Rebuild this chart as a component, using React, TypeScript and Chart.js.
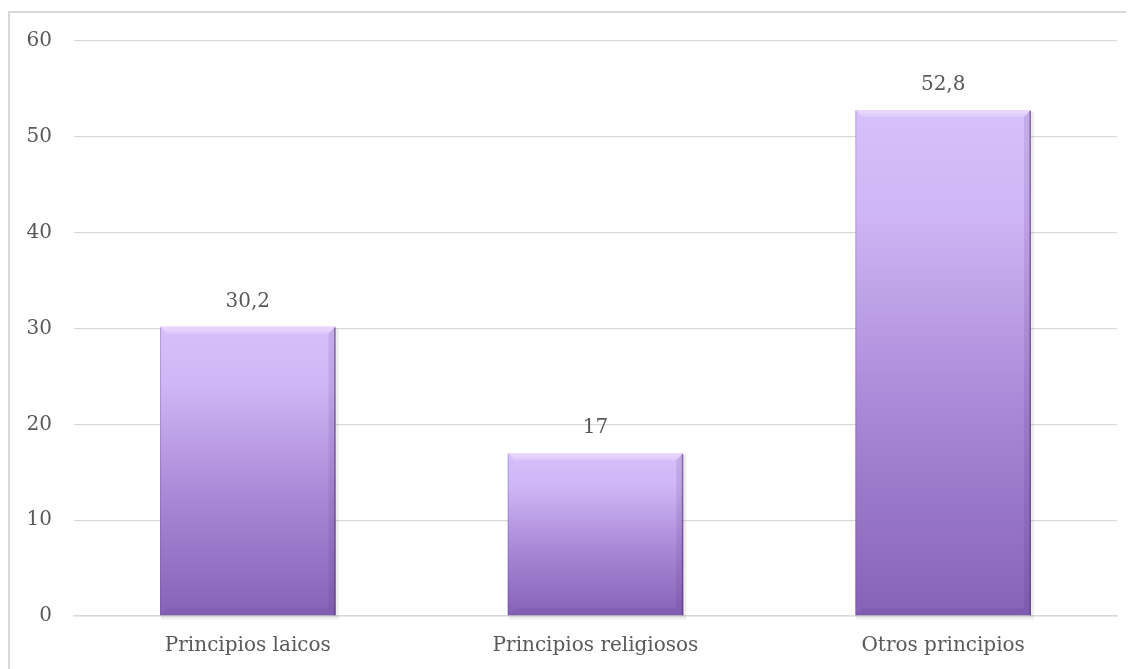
import React, { useEffect, useRef } from "react";
import { Chart, registerables } from "chart.js";

Chart.register(...registerables);

const categories = ["Principios laicos", "Principios religiosos", "Otros principios"];
const values = [30.2, 17, 52.8];
const yMin = 0;
const yMax = 60;
const yStep = 10;

const FONT = "'DejaVu Serif', serif";
const TEXT = "#595959";
const GRID = "#d9d9d9";

const fmt = (v: number) => String(v).replace(".", ",");

const bevelPlugin = {
  id: "bevel",
  beforeDatasetsDraw(chart: any) {
    const meta = chart.getDatasetMeta(0);
    const ctx = chart.ctx;
    ctx.save();
    meta.data.forEach((bar: any) => {
      const { x, y, base, width } = bar.getProps(["x", "y", "base", "width"], true);
      const x0 = x - width / 2;
      ctx.fillStyle = "rgba(0,0,0,0.07)";
      ctx.fillRect(x0 + 1, y + 2, width + 2, base - y + 2);
    });
    ctx.restore();
  },
  afterDatasetsDraw(chart: any) {
    const meta = chart.getDatasetMeta(0);
    const ctx = chart.ctx;
    ctx.save();
    meta.data.forEach((bar: any, i: number) => {
      const { x, y, base, width } = bar.getProps(["x", "y", "base", "width"], true);
      const x0 = x - width / 2;
      const x1 = x + width / 2;
      const top = y;
      const bot = base;
      const b = 7;
      // top bevel
      ctx.beginPath();
      ctx.moveTo(x0, top);
      ctx.lineTo(x1, top);
      ctx.lineTo(x1 - b, top + b);
      ctx.lineTo(x0 + b, top + b);
      ctx.closePath();
      const tg = ctx.createLinearGradient(0, top, 0, top + b);
      tg.addColorStop(0, "rgba(255,235,255,0.55)");
      tg.addColorStop(1, "rgba(255,255,255,0.15)");
      ctx.fillStyle = tg;
      ctx.fill();
      // right bevel
      ctx.beginPath();
      ctx.moveTo(x1, top);
      ctx.lineTo(x1, bot);
      ctx.lineTo(x1 - b, bot - b);
      ctx.lineTo(x1 - b, top + b);
      ctx.closePath();
      ctx.fillStyle = "rgba(70,40,110,0.12)";
      ctx.fill();
      // bottom bevel
      ctx.beginPath();
      ctx.moveTo(x0, bot);
      ctx.lineTo(x0 + b, bot - b);
      ctx.lineTo(x1 - b, bot - b);
      ctx.lineTo(x1, bot);
      ctx.closePath();
      ctx.fillStyle = "rgba(60,30,100,0.08)";
      ctx.fill();
      // edge lines
      ctx.fillStyle = "rgba(80,50,110,0.55)";
      ctx.fillRect(x1 - 1.5, top + 1, 1.5, bot - top - 1);
      ctx.fillStyle = "rgba(80,50,110,0.25)";
      ctx.fillRect(x0, top + 1, 1, bot - top - 1);
      // value label
      ctx.fillStyle = TEXT;
      ctx.font = `20px ${FONT}`;
      ctx.textAlign = "center";
      ctx.textBaseline = "middle";
      ctx.fillText(fmt(values[i]), x, top - 25);
    });
    ctx.restore();
  },
};

export default function App() {
  const ref = useRef<HTMLCanvasElement | null>(null);

  useEffect(() => {
    document.body.style.overflow = "hidden";
    if (!ref.current) return;
    const chart = new Chart(ref.current, {
      type: "bar",
      data: {
        labels: categories,
        datasets: [
          {
            data: values,
            barPercentage: 0.505,
            categoryPercentage: 1,
            backgroundColor: (c: any) => {
              const ch = c.chart;
              const ys = ch.scales?.y;
              if (!ys || !ch.chartArea || c.dataIndex === undefined) return "#a88bd8";
              const top = ys.getPixelForValue(values[c.dataIndex]);
              const bot = ys.getPixelForValue(0);
              const g = ch.ctx.createLinearGradient(0, top, 0, bot);
              g.addColorStop(0, "#d6c0fb");
              g.addColorStop(0.2, "#cfb6f5");
              g.addColorStop(0.6, "#a887d6");
              g.addColorStop(1, "#8662b6");
              return g;
            },
            borderWidth: 0,
          },
        ],
      },
      options: {
        animation: false,
        responsive: false,
        maintainAspectRatio: false,
        layout: { padding: { top: 28, right: 17, left: 0, bottom: 0 } },
        plugins: { legend: { display: false }, tooltip: { enabled: false } },
        scales: {
          x: {
            grid: { display: false, drawTicks: false },
            border: { display: true, color: GRID, width: 1.5 },
            ticks: { color: TEXT, font: { family: FONT, size: 20 }, padding: 18 },
            afterFit: (s: any) => {
              s.height = 45;
              s.paddingLeft = 0;
              s.paddingRight = 0;
            },
          },
          y: {
            min: yMin,
            max: yMax,
            ticks: {
              stepSize: yStep,
              color: TEXT,
              font: { family: FONT, size: 20 },
              padding: 22,
            },
            grid: { color: GRID, lineWidth: 1.3, drawTicks: false },
            border: { display: false },
            afterFit: (s: any) => {
              s.width = 64;
              s.paddingTop = 12;
              s.paddingBottom = 12;
            },
          },
        },
      },
      plugins: [bevelPlugin],
    });
    return () => chart.destroy();
  }, []);

  return (
    <div
      style={{
        marginTop: 3,
        width: 1140,
        height: 680,
        borderTop: "2px solid #d9d9d9",
        borderLeft: "2px solid #d9d9d9",
        boxSizing: "border-box",
        background: "#fff",
      }}
    >
      <canvas ref={ref} width={1124} height={648} style={{ display: "block" }} />
    </div>
  );
}
